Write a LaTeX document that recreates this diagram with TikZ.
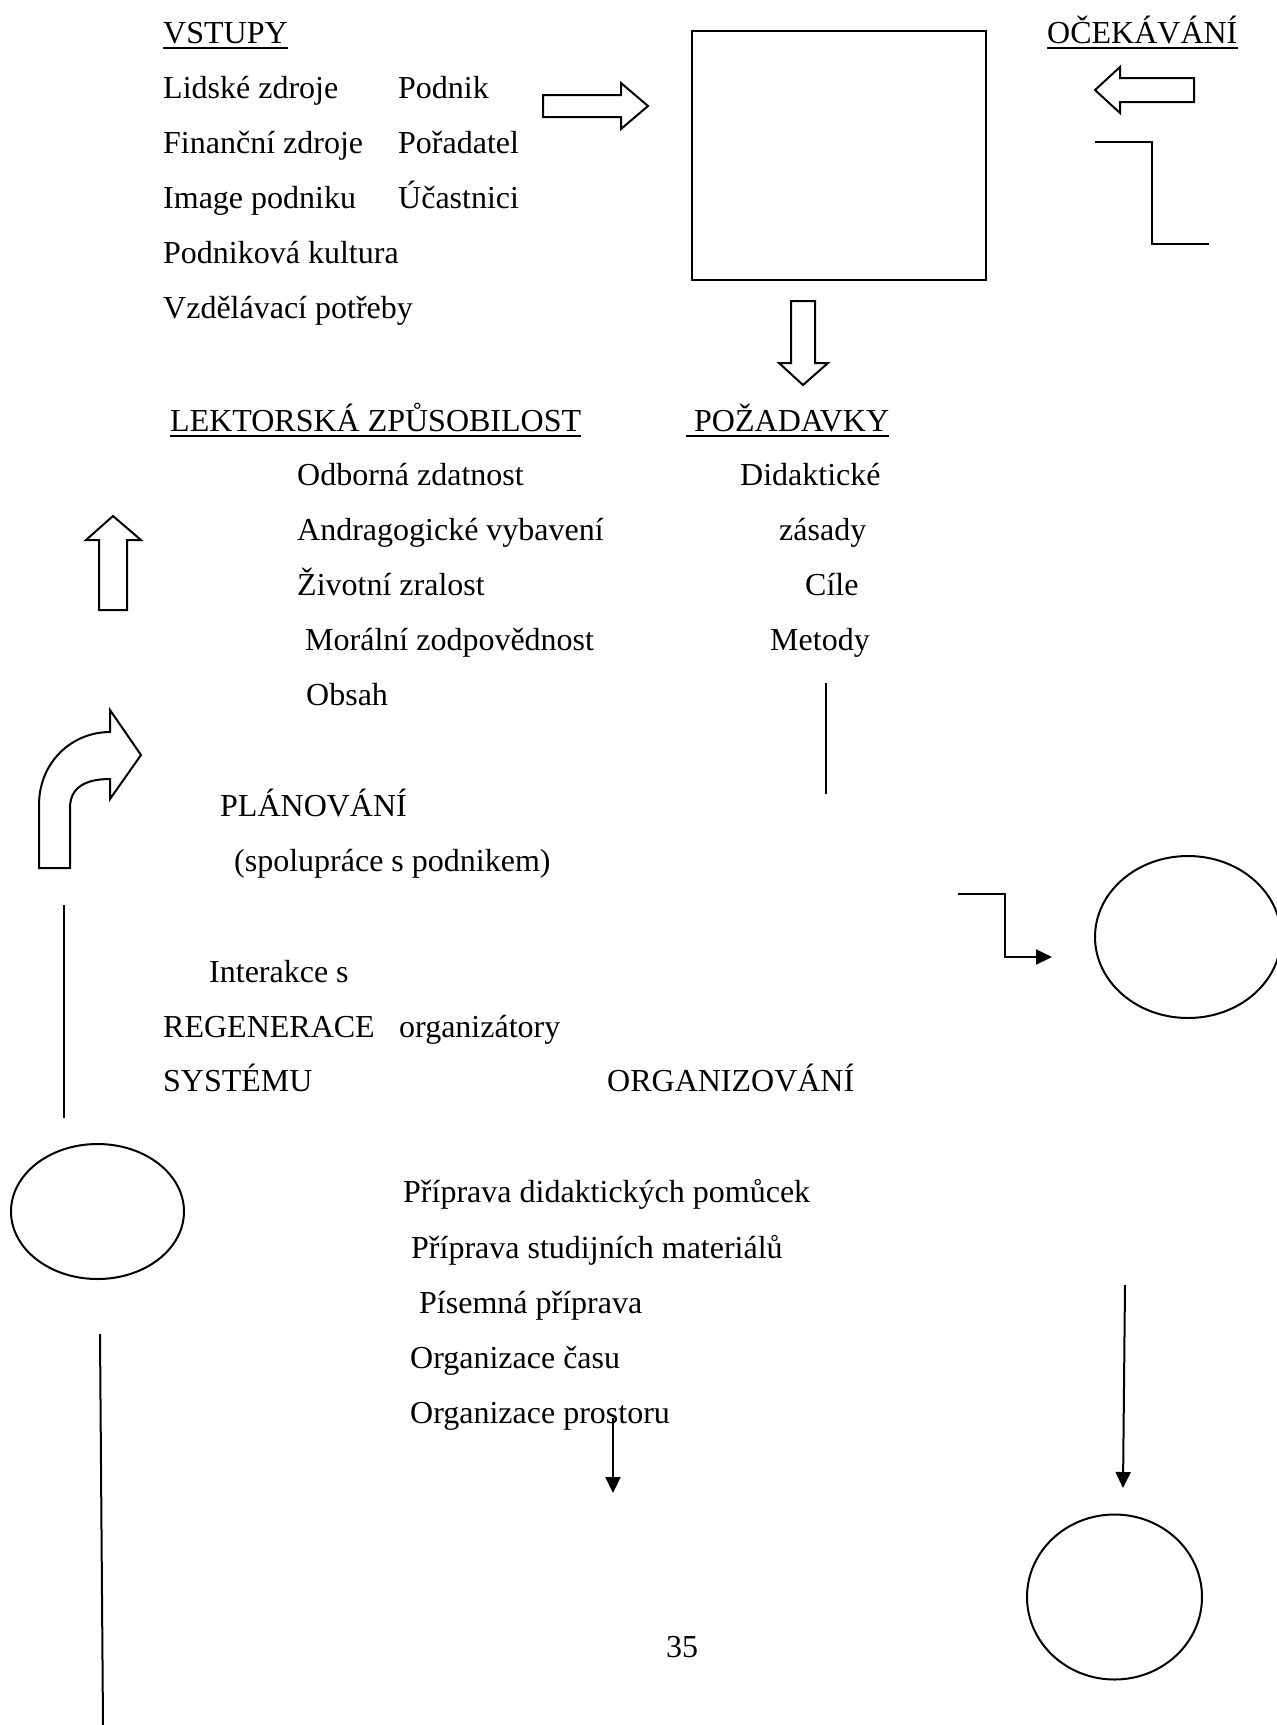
\documentclass[tikz,border=0pt]{standalone}
\usepackage{fontspec}
\setmainfont{Liberation Serif}
\usetikzlibrary{arrows.meta,calc,shapes.geometric}

\begin{document}
\begin{tikzpicture}[
    x=1pt, y=-1pt,
    lbl/.style={font=\fontsize{32}{38}\selectfont, anchor=base west, inner sep=0pt},
    stroke/.style={line width=2pt},
    oval/.style={draw, ellipse, line width=2pt, inner sep=0pt},
    tip/.style={-{Triangle[length=16pt,width=15pt]}},
    uline/.style={line width=1.8pt},
]
\useasboundingbox (0,0) rectangle (1277,1725);

% headings
\node[lbl] (vst) at (163,43) {VSTUPY};
\node[lbl] (oce) at (1047,43) {OČEKÁVÁNÍ};
\node[lbl] (lek) at (170,431) {LEKTORSKÁ ZPŮSOBILOST};
\node[lbl] (poz) at (686,431) {\ POŽADAVKY};
\foreach \n in {vst, oce, lek, poz} {
    \draw[uline] ([yshift=-5pt]\n.base west) -- ([yshift=-5pt]\n.base east);
}

% inputs
\foreach \txt/\y [count=\i] in {Lidské zdroje/98, Finanční zdroje/153, Image podniku/208, Podniková kultura/263, Vzdělávací potřeby/318} {
    \node[lbl] (in\i) at (163,\y) {\txt};
}
\foreach \txt/\y [count=\i] in {Podnik/98, Pořadatel/153, Účastnici/208} {
    \node[lbl] (sub\i) at (398,\y) {\txt};
}

% lecturer and requirements
\foreach \txt/\x/\y [count=\i] in {Odborná zdatnost/297/485, Andragogické vybavení/297/540, Životní zralost/297/595, Morální zodpovědnost/305/650, Obsah/306/705} {
    \node[lbl] (lk\i) at (\x,\y) {\txt};
}
\foreach \txt/\x/\y [count=\i] in {Didaktické/740/485, zásady/779/540, Cíle/805/595, Metody/770/650} {
    \node[lbl] (pz\i) at (\x,\y) {\txt};
}

% planning, regeneration, organizing
\node[lbl] (plan) at (220,816) {PLÁNOVÁNÍ};
\node[lbl] (spol) at (234,871) {(spolupráce s podnikem)};
\node[lbl] (inter) at (209,982) {Interakce s};
\node[lbl] (regen) at (163,1037) {REGENERACE};
\node[lbl] (orgz) at (399,1037) {organizátory};
\node[lbl] (sys) at (163,1091) {SYSTÉMU};
\node[lbl] (org) at (607,1091) {ORGANIZOVÁNÍ};
\foreach \txt/\x/\y [count=\i] in {Příprava didaktických pomůcek/403/1202, Příprava studijních materiálů/411/1258, Písemná příprava/419/1313, Organizace času/410/1368, Organizace prostoru/410/1423} {
    \node[lbl] (pr\i) at (\x,\y) {\txt};
}
\node[lbl, anchor=base] (page) at (682,1657) {35};

% box and ovals
\node[draw, stroke, anchor=north west, minimum width=294pt, minimum height=249pt, inner sep=0pt] (box) at (691,30) {};
\node[oval, minimum width=186pt, minimum height=162pt] (ovR) at (1188,937) {};
\node[oval, minimum width=173pt, minimum height=135pt] (ovL) at (97.5,1211.5) {};
\node[oval, minimum width=175pt, minimum height=165pt] (ovB) at (1114.5,1597) {};

% block arrows
\draw[stroke] (543,95) -- (621,95) -- (621,83) -- (648,106) -- (621,129) -- (621,117) -- (543,117) -- cycle;
\draw[stroke] (1194,78) -- (1120,78) -- (1120,67) -- (1095,90) -- (1120,113) -- (1120,102) -- (1194,102) -- cycle;
\draw[stroke] (791,301) -- (791,363) -- (779,363) -- (803,385) -- (828,363) -- (815,363) -- (815,301) -- cycle;
\draw[stroke] (99,610) -- (99,540) -- (86,540) -- (113,516) -- (141,540) -- (127,540) -- (127,610) -- cycle;
\draw[stroke] (39,868) -- (39,805) .. controls (39,762) and (72,732) .. (110,732) -- (110,710) -- (141,755)
    -- (110,799) -- (110,779) .. controls (86,779) and (70,787) .. (70,808) -- (70,868) -- cycle;

% connectors
\coordinate (zA) at (1095,142);
\coordinate (zB) at (1209,244);
\draw[stroke] (zA) -| ($(zA)!.5!(zB)$) |- (zB);
\coordinate (mA) at (826,683);
\coordinate (mB) at (826,794);
\draw[stroke] (mA) -- (mB);
\coordinate (sA) at (64,905);
\coordinate (sB) at (64,1118);
\draw[stroke] (sA) -- (sB);
\coordinate (kA) at (958,894);
\coordinate (kB) at (1052,957);
\draw[stroke, tip] (kA) -| ($(kA)!.5!(kB)$) |- (kB);
\coordinate (lA) at (100,1334);
\coordinate (lB) at (103,1725);
\draw[stroke] (lA) -- (lB);
\coordinate (pA) at (613,1418);
\coordinate (pB) at (613,1493);
\draw[stroke, tip] (pA) -- (pB);
\coordinate (rA) at (1125,1285);
\coordinate (rB) at (1123,1488);
\draw[stroke, tip] (rA) -- (rB);
\end{tikzpicture}
\end{document}
